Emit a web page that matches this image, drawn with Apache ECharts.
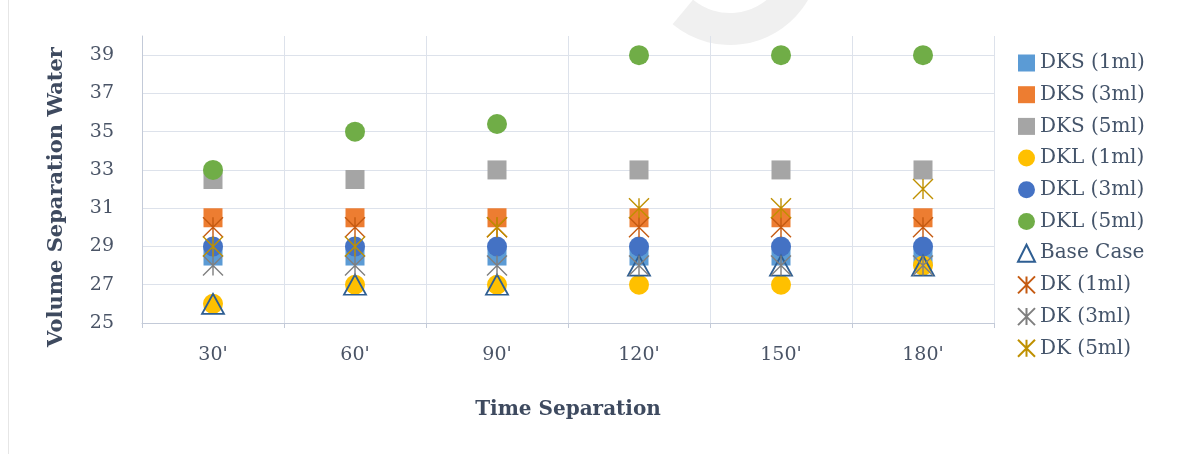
<!DOCTYPE html>
<html>
<head>
<meta charset="utf-8">
<script src="https://cdn.jsdelivr.net/npm/echarts@6/dist/echarts.min.js"></script>
<style>
  html, body { margin: 0; padding: 0; background: #ffffff; }
  #chart { width: 1197px; height: 454px; }
</style>
</head>
<body>
<div id="chart"></div>
<script>
// Separation times (x categories)
const categories = ["30'", "60'", "90'", "120'", "150'", "180'"];

// Separated water volume per sample
const dks1 = [28.5, 28.5, 28.5, 28.5, 28.5, 28.5];
const dks3 = [30.5, 30.5, 30.5, 30.5, 30.5, 30.5];
const dks5 = [32.5, 32.5, 33, 33, 33, 33];
const dkl1 = [26, 27, 27, 27, 27, 28];
const dkl3 = [29, 29, 29, 29, 29, 29];
const dkl5 = [33, 35, 35.4, 39, 39, 39];
const baseCase = [26, 27, 27, 28, 28, 28];
const dk1 = [30, 30, 30, 30, 30, 30];
const dk3 = [28, 28, 28, 28, 28, 28];
const dk5 = [29, 29, 30, 31, 31, 32];

// Value axis range; labels on odd values only
const yMin = 25;
const yMax = 40;

const FONT = 'DejaVu Serif';
const STAR = 'path://M0,0L20,20M0,20L20,0M10,0L10,20';

function filled(name, data, symbol, color, size) {
  return {
    name: name, type: 'scatter', data: data, symbol: symbol, symbolSize: size,
    itemStyle: { color: color, opacity: 1 }
  };
}
function star(name, data, color) {
  return {
    name: name, type: 'scatter', data: data, symbol: STAR, symbolSize: 20,
    itemStyle: { color: color, borderColor: color, borderWidth: 1.4, opacity: 1 }
  };
}

const chart = echarts.init(document.getElementById('chart'), null, { renderer: 'canvas' });

chart.setOption({
  animation: false,
  backgroundColor: '#ffffff',
  grid: { left: 142, right: 203, top: 36, bottom: 131, containLabel: false },
  legend: {
    orient: 'vertical',
    left: 1012,
    top: 48,
    itemWidth: 17,
    itemHeight: 17,
    itemGap: 11.7,
    textStyle: { fontFamily: FONT, fontSize: 20, color: '#44546A' },
    data: ['DKS (1ml)', 'DKS (3ml)', 'DKS (5ml)', 'DKL (1ml)', 'DKL (3ml)', 'DKL (5ml)',
           'Base Case', 'DK (1ml)', 'DK (3ml)', 'DK (5ml)']
  },
  xAxis: {
    type: 'category',
    data: categories,
    boundaryGap: true,
    name: 'Time Separation',
    nameLocation: 'middle',
    nameGap: 77,
    nameTextStyle: { fontFamily: FONT, fontSize: 20, fontWeight: 'bold', color: '#3E4A5F' },
    axisLine: { show: true, lineStyle: { color: '#C3CAD8', width: 1 } },
    axisTick: { show: true, length: 5, lineStyle: { color: '#C3CAD8' } },
    axisLabel: { margin: 23, fontFamily: FONT, fontSize: 19, color: '#4A5466' },
    splitLine: { show: true, lineStyle: { color: '#DDE2EB', width: 1 } }
  },
  yAxis: {
    type: 'value',
    min: yMin,
    max: yMax,
    interval: 1,
    axisLine: { show: true, lineStyle: { color: '#C3CAD8', width: 1 } },
    axisTick: { show: false },
    axisLabel: {
      margin: 28, fontFamily: FONT, fontSize: 19, color: '#4A5466',
      formatter: function (v) { return (v % 2 === 1 && v < yMax) ? String(v) : ''; }
    },
    splitLine: { show: true, lineStyle: { color: ['#DDE2EB', 'rgba(0,0,0,0)'], width: 1 } }
  },
  graphic: [
    // faint page edge on the left
    {
      type: 'line', silent: true,
      shape: { x1: 8.5, y1: 0, x2: 8.5, y2: 454 },
      style: { stroke: '#E6E6E6', lineWidth: 1 }
    },
    // light grey arc at the top edge
    {
      type: 'sector', silent: true, z: -1,
      shape: { cx: 730, cy: -45, r0: 58, r: 90, startAngle: Math.PI * 0.08, endAngle: Math.PI * 0.72 },
      style: { fill: '#F0F0F0' }
    },
    {
      type: 'text', x: 57, y: 197, rotation: Math.PI / 2,
      style: {
        text: 'Volume Separation Water', fontFamily: FONT, fontSize: 21, fontWeight: 'bold',
        fill: '#3E4A5F', align: 'center', verticalAlign: 'middle'
      }
    }
  ],
  series: [
    filled('DKS (1ml)', dks1, 'rect', '#5B9BD5', 19),
    filled('DKS (3ml)', dks3, 'rect', '#ED7D31', 19),
    filled('DKS (5ml)', dks5, 'rect', '#A5A5A5', 19),
    filled('DKL (1ml)', dkl1, 'circle', '#FFC000', 20),
    filled('DKL (3ml)', dkl3, 'circle', '#4472C4', 20),
    filled('DKL (5ml)', dkl5, 'circle', '#70AD47', 20),
    {
      name: 'Base Case', type: 'scatter', data: baseCase, symbol: 'triangle', symbolSize: [22, 20],
      itemStyle: { color: 'rgba(255,255,255,0)', borderColor: '#2E5E92', borderWidth: 1.8, opacity: 1 }
    },
    star('DK (1ml)', dk1, '#C55A11'),
    star('DK (3ml)', dk3, '#7F7F7F'),
    star('DK (5ml)', dk5, '#BF9000')
  ]
});
</script>
</body>
</html>
